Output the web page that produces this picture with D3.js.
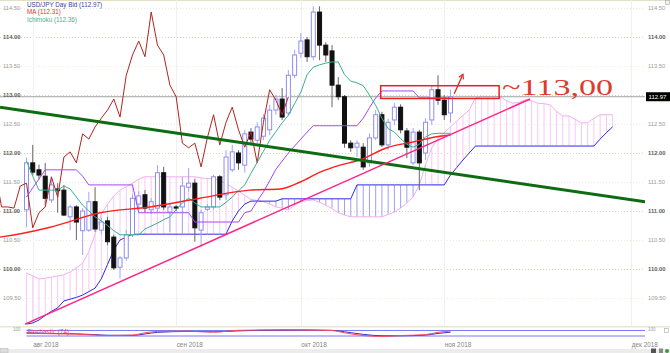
<!DOCTYPE html>
<html>
<head>
<meta charset="utf-8">
<script src="https://cdn.jsdelivr.net/npm/d3@7"></script>
<style>
body { margin: 0; background: #fff; }
svg { display: block; font-family: 'Liberation Sans', Arial, sans-serif; }
</style>
</head>
<body>
<script>
// daily USD/JPY bars, index 0 = 31 Jul 2018
var opens = [111.02,111.83,111.71,111.60,111.19,111.38,111.36,110.90,111.07,110.66,
    110.67,111.16,110.67,110.83,110.55,110.03,110.19,110.59,111.12,111.28,
    111.02,111.05,111.66,110.98,111.07,111.07,111.41,111.48,110.67,111.03,
    111.07,111.59,111.28,111.71,112.00,111.79,112.36,112.22,112.29,112.40,
    112.74,112.93,112.69,113.34,113.72,113.95,113.66,114.43,113.86,113.76,
    113.17,112.97,112.17,112.10,112.10,111.83,112.26,112.66,112.14,112.57,
    112.79,112.38,111.83,112.36,112.00,112.57,113.09,112.91,112.69];
var highs = [111.92,112.14,111.80,111.83,111.57,111.48,111.45,111.10,111.10,111.05,
    111.33,111.41,110.88,110.90,110.59,110.22,110.67,111.28,111.34,111.36,
    111.22,111.79,111.76,111.14,111.10,111.59,111.74,111.55,111.02,111.12,
    111.62,111.62,112.05,112.14,112.05,112.40,112.43,112.53,112.67,112.83,
    113.00,113.12,113.43,113.78,114.07,114.00,114.53,114.53,113.91,113.86,
    113.31,113.00,112.22,112.22,112.17,112.34,112.74,112.71,112.59,112.86,
    112.84,112.43,112.43,112.40,112.60,113.17,113.34,113.00,113.09];
var lows = [110.72,111.62,111.55,111.10,111.14,110.97,110.91,110.67,110.50,110.24,
    110.64,110.64,110.60,110.41,109.98,109.84,110.14,110.55,111.02,110.98,
    110.95,110.98,111.02,110.64,111.00,110.62,111.33,110.47,110.38,111.00,
    111.02,111.19,111.19,111.67,111.71,111.66,112.14,112.14,112.22,112.31,
    112.66,112.57,112.64,113.29,113.64,113.57,113.60,113.60,113.57,112.79,
    112.91,112.09,112.02,111.93,111.71,111.76,112.22,112.10,112.05,112.48,
    112.34,111.91,111.79,111.36,111.88,112.48,112.83,112.57,112.52];
var closes = [111.83,111.67,111.62,111.22,111.45,111.35,110.93,111.07,110.81,111.00,
    111.16,110.69,110.81,110.47,110.02,110.19,110.59,111.22,111.26,111.05,
    111.16,111.66,111.07,111.07,111.05,111.43,111.48,110.71,110.97,111.07,
    111.59,111.24,111.93,112.02,111.83,112.33,112.24,112.45,112.60,112.74,
    112.93,112.62,113.34,113.69,113.93,113.66,114.43,113.86,113.69,113.17,
    112.97,112.17,112.09,112.17,111.76,112.26,112.66,112.14,112.53,112.79,
    112.40,112.10,112.36,111.83,112.53,113.09,112.91,112.66,112.97];

// ichimoku, one value per bar
var tenkan = [111.86,111.60,111.36,111.36,111.36,111.36,111.43,111.38,111.24,111.10,
    111.00,110.90,110.83,110.75,110.66,110.59,110.59,110.59,110.59,110.69,
    110.74,110.79,110.85,110.90,111.02,111.14,111.22,111.14,111.07,111.07,
    111.07,111.07,111.15,111.24,111.35,111.45,111.65,111.84,112.03,112.22,
    112.37,112.52,112.65,112.85,113.05,113.35,113.48,113.52,113.55,113.57,
    113.57,113.35,113.24,113.21,113.16,113.00,112.82,112.60,112.42,112.36,
    112.25,112.15,112.10,112.15,112.28,112.33,112.34,112.34,112.34];
var kijun = [111.24,111.40,111.55,111.71,111.71,111.71,111.71,111.71,111.71,111.60,
    111.45,111.45,111.45,111.45,111.45,111.45,111.45,111.45,110.97,110.97,
    110.97,110.97,110.97,110.97,110.97,110.97,110.97,110.81,110.81,110.81,
    110.81,110.81,110.81,110.81,110.81,110.97,111.00,111.17,111.33,111.52,
    111.72,111.86,112.00,112.12,112.24,112.36,112.47,112.47,112.47,112.47,
    112.47,112.47,112.47,112.47,112.60,112.78,112.95,113.07,113.07,113.07,
    113.07,113.07,113.07,112.95,112.95,112.95,112.95,112.95,112.95];
var senkouA = [109.93,109.88,109.83,109.84,109.86,109.88,109.90,109.95,110.02,110.10,
    110.30,110.60,110.95,111.12,111.26,111.36,111.42,111.48,111.55,111.59,
    111.59,111.59,111.59,111.59,111.59,111.59,111.59,111.59,111.57,111.56,
    111.55,111.53,111.47,111.41,111.34,111.27,111.20,111.18,111.16,111.12,
    111.07,111.05,111.02,111.10,111.16,111.18,111.19,111.15,111.10,111.04,
    110.97,110.93,110.90,110.90,110.90,110.90,110.90,110.90,110.94,110.98,
    111.05,111.14,111.24,111.45,111.80,112.09,112.25,112.35,112.45,112.55,
    112.65,112.74,112.95,112.97,112.97,112.97,112.97,112.90,112.86,112.87,
    112.92,112.90,112.86,112.85,112.83,112.72,112.64,112.64,112.58,112.52,
    112.52,112.60,112.66,112.66,112.66];
var senkouB = [109.05,109.07,109.12,109.20,109.27,109.33,109.45,109.48,109.51,109.55,
    109.61,109.67,109.83,110.08,110.33,110.50,110.55,110.60,110.60,110.60,
    110.60,110.60,110.60,110.60,110.60,110.60,110.60,110.60,110.60,110.60,
    110.60,110.60,110.60,110.83,111.00,111.12,111.17,111.17,111.17,111.17,
    111.17,111.21,111.21,111.21,111.21,111.21,111.21,111.21,111.21,111.21,
    111.21,111.21,111.21,111.45,111.45,111.45,111.45,111.45,111.45,111.45,
    111.45,111.45,111.45,111.45,111.45,111.45,111.45,111.45,111.62,111.75,
    111.88,112.00,112.12,112.12,112.12,112.12,112.12,112.12,112.12,112.12,
    112.12,112.12,112.12,112.12,112.12,112.12,112.12,112.12,112.12,112.12,
    112.12,112.12,112.24,112.35,112.45];
// lagging span, first value sits at bar -5
var chikouStart = -5;
var chikou = [111.66,111.07,111.07,111.05,111.43,111.48,110.71,110.97,111.07,111.59,
    111.24,111.93,112.02,111.83,112.33,112.24,112.45,112.60,112.74,112.93,
    112.62,113.34,113.69,113.93,113.66,114.43,113.86,113.69,113.17,112.97,
    112.17,112.09,112.17,111.76,112.26,112.66,112.14,112.53,112.79,112.40,
    112.10,112.36,111.83,112.53,113.09,112.91,112.66,112.97];

// moving average, [bar, value]
var ma = [[-5,110.54],[-4.25,110.55],[3.8,110.72],[11.8,110.97],[19.8,111.07],[27.8,111.22],
    [35.8,111.36],[40.7,111.38],[43.9,111.50],[47.1,111.67],[50.3,111.79],[53.5,111.88],
    [57.8,112.09],[62,112.19],[65.8,112.28],[68,112.31]];

// stochastic %K and %D, [bar, value]
var stochK = [[0,50],[4,45],[8,40],[11,30],[13,25],[17,30],[19,55],[21,70],[26,72],[30,62],
    [34,82],[42,88],[45,85],[49,80],[51,55],[54,25],[57,15],[60,25],[64,35],[66,60],[68,74]];
var stochD = [[0,55],[4,48],[8,44],[11,35],[13,28],[17,27],[19,42],[21,60],[26,70],[30,66],
    [34,76],[42,86],[45,86],[49,82],[51,66],[54,38],[57,22],[60,22],[64,30],[66,48],[68,62]];
var stochLevels = [80, 20];

// hand drawn trend lines and target, [bar, value]
var greenTrend = [[-4.25,112.79],[99.4,111.155]];
var pinkTrend = [[-0.24,109.05],[80.75,112.93]];
var targetBox = [[56.8,113.16],[75.8,112.94]];
var targetArrow = [[68.6,113.02],[70,113.36]];
var targetText = '~113,00';
var lastPrice = 112.97;

var legend = [
    {text: 'USD/JPY Day Bid (112.97)', color: '#4141a6'},
    {text: 'MA (112.31)', color: '#e8322e'},
    {text: 'Ichimoku (112.36)', color: '#3db38f'}
];
var yTicks = [109.5,110,110.5,111,111.5,112,112.5,113,113.5,114,114.5];
var monthIdx = [1, 24, 44, 67, 97];
var monthLabels = ['авг 2018', 'сен 2018', 'окт 2018', 'ноя 2018', 'дек 2018'];

var width = 670,
    height = 353,
    plotRight = 645,
    plotBottom = 326;

var svg = d3.select('body').append('svg')
    .attr('width', width)
    .attr('height', height)

var x = d3.scaleLinear().domain([0, 68]).range([26.5, 450.5])
var y = d3.scaleLinear().domain([109.5, 114.5]).range([298, 8])
var ys = d3.scaleLinear().domain([0, 100]).range([337.8, 328.7])

var defs = svg.append('defs')
defs.append('clipPath').attr('id', 'clip')
    .append('rect').attr('width', plotRight).attr('height', plotBottom)
defs.append('clipPath').attr('id', 'clip2')
    .append('rect').attr('y', plotBottom + 1).attr('width', plotRight).attr('height', 14)
defs.append('marker').attr('id', 'head')
    .attr('viewBox', '0 0 10 10').attr('refX', 8).attr('refY', 5)
    .attr('markerWidth', 5).attr('markerHeight', 5).attr('orient', 'auto')
    .append('path').attr('d', 'M1,1 L8,5 L1,9').attr('fill', 'none')
    .attr('stroke', '#e8231e').attr('stroke-width', 1.6)

// frame
svg.append('line').attr('x1', 0).attr('x2', width).attr('y1', 0.5).attr('y2', 0.5)
    .attr('stroke', '#e4dfc6')
svg.append('rect').attr('x', 0).attr('y', plotBottom).attr('width', width).attr('height', 1.5)
    .attr('fill', '#ebe6d2')

// grid
svg.append('g').selectAll('line').data(yTicks).enter().append('line')
    .attr('x1', 0).attr('x2', plotRight)
    .attr('y1', d => Math.round(y(d)) + 0.5).attr('y2', d => Math.round(y(d)) + 0.5)
    .attr('stroke', d => d % 1 === 0 ? '#d9d5b4' : '#ecead9')
    .attr('stroke-dasharray', '1,2')
svg.append('g').selectAll('line').data(monthIdx).enter().append('line')
    .attr('x1', d => Math.round(x(d)) + 0.5).attr('x2', d => Math.round(x(d)) + 0.5)
    .attr('y1', 0).attr('y2', plotBottom)
    .attr('stroke', '#f0f0f0')

var plot = svg.append('g').attr('clip-path', 'url(#clip)')

// cloud hatch
var cloud = senkouA.map((a, i) => ({i: i, a: a, b: senkouB[i]}))
plot.append('g').selectAll('line').data(cloud).enter().append('line')
    .attr('x1', d => x(d.i)).attr('x2', d => x(d.i))
    .attr('y1', d => y(d.a)).attr('y2', d => y(d.b))
    .attr('stroke', d => d.a >= d.b ? '#f8c8f6' : '#a0a0ee')
    .attr('stroke-width', 1)

var barLine = d3.line().x((d, i) => x(i)).y(d => y(d))
var ptLine = d3.line().x(d => x(d[0])).y(d => y(d[1]))

plot.append('path').attr('d', barLine(senkouA))
    .attr('style', 'fill: none; stroke: #f4aef2; stroke-width: 1px;')
plot.append('path').attr('d', barLine(senkouB))
    .attr('style', 'fill: none; stroke: #2a2ae6; stroke-width: 1px;')

// last price line
plot.append('line').attr('x1', 0).attr('x2', plotRight)
    .attr('y1', y(lastPrice)).attr('y2', y(lastPrice))
    .attr('stroke', '#8a8a8a').attr('stroke-width', 0.8)

// candles
var bars = closes.map((c, i) => ({i: i, o: opens[i], h: highs[i], l: lows[i], c: c}))
var candle = plot.append('g').selectAll('g').data(bars).enter().append('g')
candle.append('line')
    .attr('x1', d => x(d.i)).attr('x2', d => x(d.i))
    .attr('y1', d => y(d.h)).attr('y2', d => y(d.l))
    .attr('stroke', d => d.c >= d.o ? '#a4a4f2' : '#666')
candle.append('rect')
    .attr('x', d => x(d.i) - 2).attr('width', 4)
    .attr('y', d => y(Math.max(d.o, d.c)))
    .attr('height', d => Math.max(1, y(Math.min(d.o, d.c)) - y(Math.max(d.o, d.c))))
    .attr('fill', d => d.c >= d.o ? '#fff' : '#111')
    .attr('stroke', d => d.c >= d.o ? '#8d8df2' : '#111')

// indicator lines
plot.append('path').attr('d', d3.line().x((d, i) => x(i + chikouStart)).y(d => y(d))(chikou))
    .attr('style', 'fill: none; stroke: #b3231f; stroke-width: 1px;')
plot.append('path').attr('d', barLine(tenkan))
    .attr('style', 'fill: none; stroke: #3bb08f; stroke-width: 1px;')
plot.append('path').attr('d', barLine(kijun))
    .attr('style', 'fill: none; stroke: #a447f4; stroke-width: 1px;')
plot.append('path').attr('d', ptLine.curve(d3.curveMonotoneX)(ma))
    .attr('style', 'fill: none; stroke: #ff1f1f; stroke-width: 1.4px;')
ptLine.curve(d3.curveLinear)

// trend lines
plot.append('path').attr('d', ptLine(greenTrend))
    .attr('style', 'fill: none; stroke: #0d6b12; stroke-width: 3px;')
plot.append('path').attr('d', ptLine(pinkTrend))
    .attr('style', 'fill: none; stroke: #ff2386; stroke-width: 1.5px;')

// target
svg.append('rect')
    .attr('x', x(targetBox[0][0])).attr('y', y(targetBox[0][1]))
    .attr('width', x(targetBox[1][0]) - x(targetBox[0][0]))
    .attr('height', y(targetBox[1][1]) - y(targetBox[0][1]))
    .attr('fill', 'none').attr('stroke', '#ee1f1f').attr('stroke-width', 1.5)
svg.append('path').attr('d', ptLine(targetArrow))
    .attr('fill', 'none').attr('stroke', '#e8231e').attr('stroke-width', 1.3)
    .attr('marker-end', 'url(#head)')
svg.append('text')
    .attr('x', x(targetBox[1][0]) + 3).attr('y', y(lastPrice) - 1.5)
    .attr('textLength', 111).attr('lengthAdjust', 'spacingAndGlyphs')
    .attr('style', "font-family: 'Liberation Serif', 'Times New Roman', serif; font-size: 24px; fill: #e0392d;")
    .text(targetText)

// legend
svg.append('g').selectAll('text').data(legend).enter().append('text')
    .attr('x', 27).attr('y', (d, i) => 6.8 + i * 7.5)
    .attr('fill', d => d.color).attr('font-size', '6.3px')
    .text(d => d.text)

// price axes, left and right
function styleAxis(g) {
    g.select('.domain').remove()
    g.selectAll('text')
        .attr('font-size', '5.8px')
        .attr('font-family', "'Liberation Sans', Arial, sans-serif")
        .attr('font-weight', d => d % 1 === 0 ? 'bold' : 'normal')
        .attr('fill', d => d % 1 === 0 ? '#5e5e5e' : '#9c9c9c')
}
var yAxis = d3.axisRight(y).tickValues(yTicks).tickSize(0).tickFormat(d3.format('.2f'))
svg.append('g').call(yAxis.tickPadding(3)).call(styleAxis)
svg.append('g').attr('transform', `translate(${plotRight}, 0)`).call(yAxis.tickPadding(3)).call(styleAxis)

// last price tag
svg.append('rect').attr('x', 646).attr('y', y(lastPrice) - 4.5).attr('width', 24).attr('height', 9)
    .attr('fill', '#000')
svg.append('text').attr('x', 648.5).attr('y', y(lastPrice) + 2.2)
    .attr('fill', '#fff').attr('font-size', '6px').text(lastPrice.toFixed(2))

// stochastic panel
var stoch = svg.append('g').attr('clip-path', 'url(#clip2)')
stoch.selectAll('line').data(stochLevels).enter().append('line')
    .attr('x1', x(0)).attr('x2', plotRight)
    .attr('y1', d => ys(d)).attr('y2', d => ys(d))
    .attr('stroke', '#7b7bf6').attr('stroke-width', 1.2)
var stLine = d3.line().x(d => x(d[0])).y(d => ys(d[1])).curve(d3.curveMonotoneX)
stoch.append('path').attr('d', stLine(stochD))
    .attr('style', 'fill: none; stroke: #3a2fb8; stroke-width: 1px;')
stoch.append('path').attr('d', stLine(stochK))
    .attr('style', 'fill: none; stroke: #ff4a5a; stroke-width: 1px;')
svg.append('text').attr('x', 27).attr('y', 334)
    .attr('fill', '#ff3350').attr('font-size', '6.3px').text('Stochastic (74)')
svg.append('text').attr('x', 13).attr('y', 330.5)
    .attr('fill', '#9c9c9c').attr('font-size', '4.5px').text('100')
svg.append('text').attr('x', 648).attr('y', 330.5)
    .attr('fill', '#9c9c9c').attr('font-size', '4.5px').text('100')
svg.append('rect').attr('x', 664.5).attr('y', 328.5).attr('width', 4).attr('height', 4)
    .attr('fill', '#fff').attr('stroke', '#aaa').attr('stroke-width', 0.6)

// time axis
var xAxis = d3.axisBottom(x).tickValues(monthIdx).tickSize(0).tickPadding(4)
    .tickFormat((d, i) => monthLabels[i])
svg.append('g').attr('transform', 'translate(0, 338.5)').call(xAxis)
    .call(g => g.select('.domain').remove())
    .call(g => g.selectAll('text')
        .attr('text-anchor', 'start')
        .attr('font-size', '6.4px')
        .attr('font-family', "'Liberation Sans', Arial, sans-serif")
        .attr('fill', '#858585'))

// footer strip and corner buttons
svg.append('rect').attr('x', 0).attr('y', 349).attr('width', width).attr('height', 4)
    .attr('fill', '#ececec')
svg.append('rect').attr('x', 0).attr('y', 348.5).attr('width', 8).attr('height', 4.5)
    .attr('fill', '#dcdcdc').attr('stroke', '#b5b5b5').attr('stroke-width', 0.5)
svg.append('rect').attr('x', 651).attr('y', 348.5).attr('width', 5).attr('height', 4.5)
    .attr('fill', '#555')
svg.append('rect').attr('x', 659).attr('y', 348.5).attr('width', 4).attr('height', 4.5)
    .attr('fill', '#888')
svg.append('circle').attr('cx', 667).attr('cy', 351).attr('r', 2).attr('fill', '#3a9a3a')
svg.append('rect').attr('x', 665.5).attr('y', 0.5).attr('width', 4).attr('height', 4)
    .attr('fill', '#f2f2f2').attr('stroke', '#aaa').attr('stroke-width', 0.6)
</script>
</body>
</html>
